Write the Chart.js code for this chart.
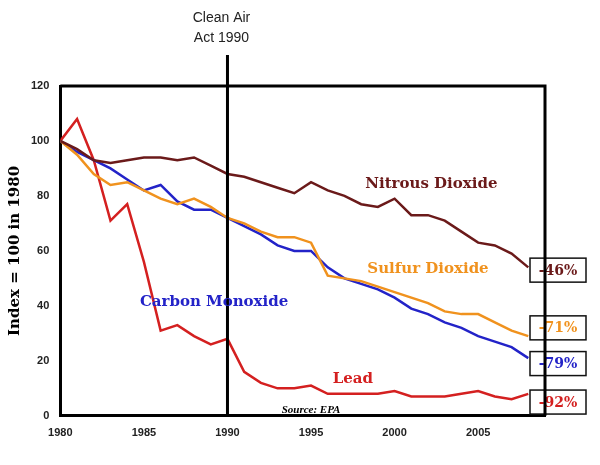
<!DOCTYPE html>
<html><head><script src="https://cdn.jsdelivr.net/npm/chart.js"></script>
<style>body{margin:0;background:#fff}#w{width:600px;height:465px}</style></head>
<body><div id="w"><canvas id="c"></canvas></div>
<script>
const years=[];for(let y=1980;y<=2008;y++)years.push(y);
const nitrous=[100,97,93,92,93,94,94,93,94,91,88,87,85,83,81,85,82,80,77,76,79,73,73,71,67,63,62,59,54];
const sulfur=[100,95,88,84,85,82,79,77,79,76,72,70,67,65,65,63,51,50,49,47,45,43,41,38,37,37,34,31,29];
const carbon=[100,96,93,90,86,82,84,78,75,75,72,69,66,62,60,60,54,50,48,46,43,39,37,34,32,29,27,25,21];
const lead=[100,108,93,71,77,56,31,33,29,26,28,16,12,10,10,11,8,8,8,8,9,7,7,7,8,9,7,6,8];
const names=['Nitrous Dioxide','Sulfur Dioxide','Carbon Monoxide','Lead'];
const colors=['#6b1a1a','#f0921e','#2323c8','#d42020'];
const ends=['-46%','-71%','-79%','-92%'];
const labelPos=[[2002.2,83],[2002,52],[1989.2,40],[1997.5,12]];
const endY=[53,32,19,5];
const series=[nitrous,sulfur,carbon,lead];
const deco={id:'deco',afterDatasetsDraw(ch){const c=ch.ctx,x=ch.scales.x,y=ch.scales.y,a=ch.chartArea;
c.save();
const lx=x.getPixelForValue(1990);
c.strokeStyle='#000';c.lineWidth=3;c.beginPath();c.moveTo(lx,55);c.lineTo(lx,a.bottom);c.stroke();
c.fillStyle='#222';c.font='14px "Liberation Sans", Arial';c.textAlign='center';
c.fillText('Clean Air',lx-6,22);c.fillText('Act 1990',lx-6,42);
c.font='bold 15px "DejaVu Serif", serif';
series.forEach((s,i)=>{c.fillStyle=colors[i];c.fillText(names[i],x.getPixelForValue(labelPos[i][0]),y.getPixelForValue(labelPos[i][1]));});
c.font='bold italic 11px "Liberation Serif", serif';c.fillStyle='#000';c.fillText('Source: EPA',x.getPixelForValue(1995),y.getPixelForValue(1));
c.font='bold 14px "DejaVu Serif", serif';
series.forEach((s,i)=>{const py=y.getPixelForValue(endY[i]);const bx=530,bw=56,bh=24;
c.fillStyle='#fff';c.fillRect(bx,py-bh/2,bw,bh);c.strokeStyle='#111';c.lineWidth=1.5;c.strokeRect(bx,py-bh/2,bw,bh);
c.fillStyle=colors[i];c.textBaseline='middle';c.fillText(ends[i],bx+bw/2,py+1);c.textBaseline='alphabetic';});
c.restore();}};
new Chart(document.getElementById('c'),{type:'line',
data:{labels:years,datasets:series.map((s,i)=>({data:s.map((v,j)=>({x:years[j],y:v})),borderColor:colors[i],borderWidth:2.5,pointRadius:0,tension:0}))},
options:{responsive:true,maintainAspectRatio:false,animation:false,
layout:{padding:{top:86,right:55,left:2,bottom:22}},
plugins:{legend:{display:false},tooltip:{enabled:false}},
scales:{x:{type:'linear',min:1980,max:2009,border:{color:'#000',width:3},grid:{display:false},
 ticks:{stepSize:5,color:'#222',font:{size:11,weight:'bold'},callback:v=>v%5===0&&v<=2005?v:''}},
 y:{min:0,max:120,border:{color:'#000',width:3},grid:{display:false},
 title:{display:true,text:'Index = 100 in 1980',color:'#000',font:{size:15,weight:'bold',family:'"DejaVu Serif", serif'}},
 ticks:{stepSize:20,color:'#222',font:{size:11,weight:'bold'}}}}},
plugins:[deco,{id:'frame',afterDraw(ch){const c=ch.ctx,a=ch.chartArea;c.save();c.strokeStyle='#000';c.lineWidth=3;c.beginPath();c.moveTo(a.left,a.top);c.lineTo(a.right,a.top);c.lineTo(a.right,a.bottom);c.stroke();c.restore();}}]});
</script></body></html>
